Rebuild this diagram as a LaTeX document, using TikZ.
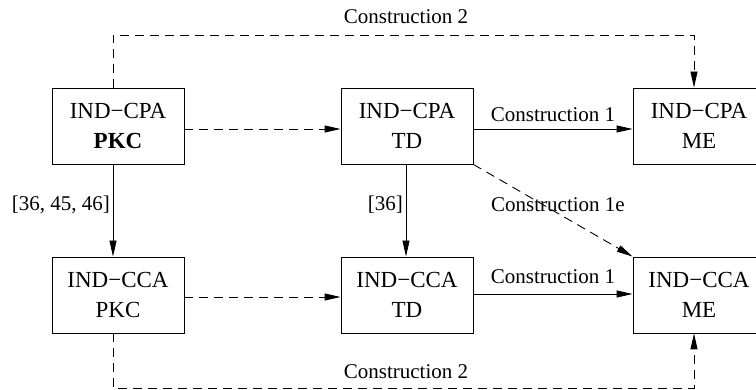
\documentclass[tikz,border=0pt]{standalone}
\usepackage{fontspec}
\setmainfont{Liberation Serif}
\usetikzlibrary{arrows.meta}
\begin{document}
\begin{tikzpicture}[x=1pt,y=-1pt,
  box/.style={draw,line width=0.9pt,minimum width=132pt,minimum height=76pt,inner sep=0pt,align=center,font=\fontsize{23}{30}\selectfont},
  lbl/.style={inner sep=0pt,font=\fontsize{21}{24}\selectfont},
  conn/.style={line width=0.9pt},
  dsh/.style={conn,dash pattern=on 9pt off 6pt},
  arr/.style={-{Triangle[length=16pt,width=7pt]}}]
\useasboundingbox (0,0) rectangle (756,390);
\clip (0,0) rectangle (756,390);
\node[box] (cpapkc) at (118,126) {IND−CPA\\\textbf{PKC}};
\node[box] (cpatd) at (407,126) {IND−CPA\\TD};
\node[box] (cpame) at (699,126) {IND−CPA\\ME};
\node[box] (ccapkc) at (118,295) {IND−CCA\\PKC};
\node[box] (ccatd) at (407,295) {IND−CCA\\TD};
\node[box] (ccame) at (699,295) {IND−CCA\\ME};
\coordinate (tl) at (113,35);
\coordinate (tr) at (694,35);
\coordinate (bl) at (113,388);
\coordinate (br) at (694,388);
% top construction 2
\draw[dsh,arr] ([xshift=-5pt]cpapkc.north) -- (tl) -- (tr) -- ([xshift=-5pt]cpame.north);
\node[lbl] (c2t) at (406,17) {Construction 2};
% row 1
\draw[dsh,arr] ([yshift=-3pt]cpapkc.east) -- ([yshift=-3pt]cpatd.west);
\draw[conn,arr] ([yshift=-3pt]cpatd.east) -- ([yshift=-3pt]cpame.west);
\node[lbl] (c1t) at (553,115) {Construction 1};
% verticals
\draw[conn,arr] ([xshift=-5pt]cpapkc.south) -- ([xshift=-5pt]ccapkc.north);
\node[lbl,anchor=east] (r1) at (110,205) {[36, 45, 46]};
\draw[conn,arr] ([xshift=-1pt]cpatd.south) -- ([xshift=-1pt]ccatd.north);
\node[lbl,anchor=east] (r2) at (403,205) {[36]};
% diagonal
\draw[dsh,arr] (cpatd.south east) -- (ccame.north west);
\node[lbl] (c1e) at (558,205) {Construction 1e};
% row 2
\draw[dsh,arr] ([yshift=-2pt]ccapkc.east) -- ([yshift=-2pt]ccatd.west);
\draw[conn,arr] ([yshift=1pt]ccatd.east) -- ([yshift=1pt]ccame.west);
\node[lbl] (c1b) at (553,277) {Construction 1};
% bottom construction 2
\draw[dsh,arr] ([xshift=-5pt]ccapkc.south) -- (bl) -- (br) -- ([xshift=-5pt]ccame.south);
\node[lbl] (c2b) at (406,372) {Construction 2};
\end{tikzpicture}
\end{document}
